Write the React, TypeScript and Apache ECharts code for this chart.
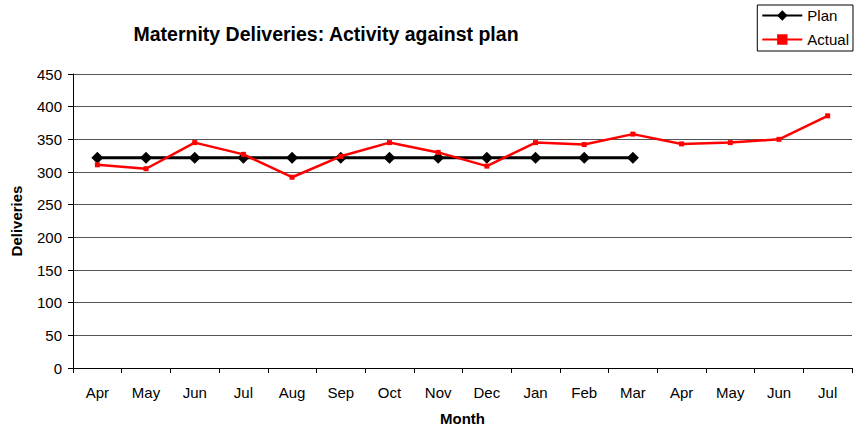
import React, { useEffect, useRef } from "react";
import * as echarts from "echarts";

const months = ["Apr", "May", "Jun", "Jul", "Aug", "Sep", "Oct", "Nov", "Dec", "Jan", "Feb", "Mar", "Apr", "May", "Jun", "Jul"];
const planValues: (number | null)[] = [322, 322, 322, 322, 322, 322, 322, 322, 322, 322, 322, 322, null, null, null, null];
const actualValues = [311, 305, 345, 327, 292, 324, 345, 330, 309, 345, 342, 358, 343, 345, 350, 386];
const yTicks = { min: 0, max: 450, interval: 50 };

export default function App() {
  const ref = useRef<HTMLDivElement>(null);
  useEffect(() => {
    const chart = echarts.init(ref.current!, undefined, { renderer: "svg" });
    const font = "'Liberation Sans', Arial, sans-serif";
    chart.setOption({
      animation: false,
      textStyle: { fontFamily: font },
      title: {
        text: "Maternity Deliveries: Activity against plan",
        left: 321,
        textAlign: "center",
        top: 19,
        textStyle: { fontFamily: font, fontSize: 19.5, fontWeight: "bold", color: "#000" },
      },
      legend: {
        orient: "vertical",
        right: 1,
        top: 5,
        itemWidth: 40,
        itemHeight: 13,
        itemGap: 9,
        padding: [3, 4, 4, 4],
        borderColor: "#000",
        borderWidth: 1,
        textStyle: { fontFamily: font, fontSize: 15, color: "#000" },
        data: ["Plan", "Actual"],
      },
      grid: { left: 73, right: 2, top: 74, bottom: 63, containLabel: false, outerBoundsMode: "none" },
      xAxis: {
        type: "category",
        data: months,
        boundaryGap: true,
        name: "Month",
        nameLocation: "middle",
        nameGap: 43,
        nameTextStyle: { fontFamily: font, fontSize: 15, fontWeight: "bold", color: "#000" },
        axisLine: { lineStyle: { color: "#000", width: 1 } },
        axisTick: { show: true, alignWithLabel: false, length: 5, lineStyle: { color: "#000" } },
        axisLabel: { fontFamily: font, fontSize: 15, color: "#000", margin: 17, interval: 0 },
        splitLine: { show: false },
      },
      yAxis: {
        type: "value",
        min: yTicks.min,
        max: yTicks.max,
        interval: yTicks.interval,
        name: "Deliveries",
        nameLocation: "middle",
        nameGap: 49,
        nameTextStyle: { fontFamily: font, fontSize: 15, fontWeight: "bold", color: "#000" },
        axisLine: { show: true, lineStyle: { color: "#000", width: 1 } },
        axisTick: { show: true, length: 5, lineStyle: { color: "#000" } },
        axisLabel: { fontFamily: font, fontSize: 15, color: "#000", margin: 11 },
        splitLine: { show: true, lineStyle: { color: "#555", width: 1 } },
      },
      series: [
        {
          name: "Plan",
          type: "line",
          data: planValues,
          symbol: "diamond",
          symbolSize: 12,
          lineStyle: { color: "#000", width: 3 },
          itemStyle: { color: "#000" },
          connectNulls: false,
          z: 2,
        },
        {
          name: "Actual",
          type: "line",
          data: actualValues,
          symbol: "rect",
          symbolSize: 5,
          lineStyle: { color: "#ff0000", width: 2.5 },
          itemStyle: { color: "#ff0000" },
          z: 3,
        },
      ],
    });
    return () => chart.dispose();
  }, []);
  return <div ref={ref} style={{ width: 854, height: 431, position: "absolute", left: 0, top: 0 }} />;
}
